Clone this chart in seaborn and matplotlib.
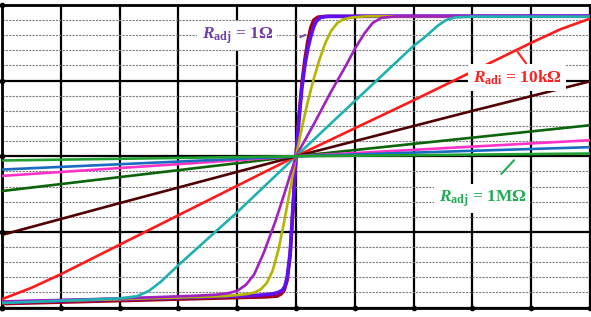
import seaborn as sns
import pandas as pd
import matplotlib.pyplot as plt
from matplotlib.ticker import MultipleLocator

# valores (x en unidades de division, y normalizado)
darkred_x = [-5, -3, -1, -0.5, -0.32, -0.25, -0.2, -0.15, -0.1, -0.05, 0, 0.05, 0.1, 0.15, 0.2, 0.25, 0.3, 0.37, 0.5, 5]
darkred_y = [-0.975, -0.955, -0.935, -0.93, -0.925, -0.91, -0.885, -0.82, -0.66, -0.34, 0, 0.26, 0.48, 0.64, 0.76, 0.85, 0.9, 0.92, 0.925, 0.925]

r1_x = [-5, -3, -1, -0.6, -0.4, -0.3, -0.23, -0.19, -0.15, -0.1, -0.05, 0, 0.05, 0.1, 0.15, 0.2, 0.25, 0.3, 0.35, 0.42, 0.55, 5]
r1_y = [-0.965, -0.945, -0.925, -0.918, -0.91, -0.9, -0.885, -0.86, -0.8, -0.64, -0.33, 0, 0.24, 0.45, 0.6, 0.71, 0.79, 0.855, 0.895, 0.918, 0.925, 0.927]

olive_x = [-5, -3, -1.2, -0.85, -0.7, -0.6, -0.5, -0.4, -0.3, -0.2, -0.1, 0, 0.1, 0.2, 0.3, 0.4, 0.5, 0.6, 0.7, 0.8, 0.95, 1.2, 5]
olive_y = [-0.965, -0.945, -0.925, -0.912, -0.9, -0.88, -0.84, -0.76, -0.62, -0.43, -0.22, 0, 0.19, 0.36, 0.51, 0.64, 0.75, 0.83, 0.88, 0.905, 0.918, 0.925, 0.925]

mag_x = [-5, -3, -1.7, -1.35, -1.15, -1.0, -0.85, -0.71, -0.55, -0.35, -0.2, 0, 0.3, 0.6, 0.85, 1.0, 1.16, 1.3, 1.45, 1.7, 5]
mag_y = [-0.96, -0.94, -0.922, -0.915, -0.905, -0.89, -0.85, -0.78, -0.64, -0.43, -0.25, 0, 0.21, 0.43, 0.6, 0.71, 0.81, 0.88, 0.915, 0.925, 0.925]

cyan_x = [-5, -4, -3, -2.7, -2.5, -2.3, -2, -1, 0, 1, 2, 2.2, 2.4, 2.55, 2.7, 3, 5]
cyan_y = [-0.97, -0.955, -0.94, -0.925, -0.89, -0.83, -0.72, -0.37, 0, 0.365, 0.73, 0.79, 0.86, 0.9, 0.918, 0.923, 0.923]

red_x = [-5, -4.5, -4, -3, -2, -1, 0, 1, 2, 3, 4, 4.5, 5]
red_y = [-0.945, -0.87, -0.78, -0.585, -0.39, -0.195, 0, 0.185, 0.37, 0.56, 0.75, 0.84, 0.91]

maroon_x = [-5, -3, 0, 3, 5]
maroon_y = [-0.52, -0.31, 0, 0.30, 0.495]

dgreen_x = [-5, 0, 5]
dgreen_y = [-0.23, 0, 0.205]

pink_x = [-5, 0, 5]
pink_y = [-0.13, 0, 0.106]

blue_x = [-5, 0, 5]
blue_y = [-0.088, 0, 0.06]

green_x = [-5, 0, 5]
green_y = [-0.028, 0, 0.018]

curves = {
    'darkred': (darkred_x, darkred_y),
    '1ohm': (r1_x, r1_y),
    'olive': (olive_x, olive_y),
    'magenta': (mag_x, mag_y),
    'cyan': (cyan_x, cyan_y),
    '10k': (red_x, red_y),
    'maroon': (maroon_x, maroon_y),
    'dgreen': (dgreen_x, dgreen_y),
    'pink': (pink_x, pink_y),
    'blue': (blue_x, blue_y),
    '1M': (green_x, green_y),
}
colores = {
    'darkred': '#a0001e', '1ohm': '#6010f0', 'olive': '#b5b500', 'magenta': '#a020c0',
    'cyan': '#20b0b0', '10k': '#ff1a1a', 'maroon': '#500000', 'dgreen': '#0a640a',
    'pink': '#ff33c8', 'blue': '#1a6cc0', '1M': '#1fa030',
}
grosores = {k: 1.9 for k in curves}
grosores['1ohm'] = 2.6
grosores['darkred'] = 2.5

rows = []
for nombre, (xs, ys) in curves.items():
    for i, (x, y) in enumerate(zip(xs, ys)):
        rows.append({'curve': nombre, 'x': x, 'y': y, 'i': i})
df = pd.DataFrame(rows)

sns.set_style('white')
plt.rcParams['mathtext.fontset'] = 'custom'
plt.rcParams['mathtext.rm'] = 'Liberation Serif:bold'
plt.rcParams['mathtext.it'] = 'Liberation Serif:italic:bold'
plt.rcParams['mathtext.bf'] = 'Liberation Serif:bold'

fig = plt.figure(figsize=(5.91, 3.17), dpi=100)
ax = fig.add_axes([2 / 591, 9.5 / 317, 588 / 591, 302.5 / 317])

sns.lineplot(data=df, x='x', y='y', hue='curve', size='curve', hue_order=list(curves),
             palette=colores, sizes=grosores, sort=False, estimator=None,
             legend=False, ax=ax, zorder=3)

ax.set_xlim(-5, 5)
ax.set_ylim(-1, 1)
ax.xaxis.set_major_locator(MultipleLocator(1))
ax.yaxis.set_major_locator(MultipleLocator(0.5))
ax.yaxis.set_minor_locator(MultipleLocator(0.1))
ax.grid(which='major', color='black', lw=1.6, zorder=1)
ax.grid(which='minor', axis='y', color='#808080', lw=0.8, ls=(0, (2, 1)), zorder=1)
ax.set_axisbelow(True)
ax.tick_params(which='both', length=0, labelbottom=False, labelleft=False)
ax.set_xlabel('')
ax.set_ylabel('')
for s in ax.spines.values():
    s.set_color('black')
    s.set_linewidth(2)

# puntos en las intersecciones del borde
ax.plot(range(-5, 6), [-1] * 11, 'o', color='black', ms=3, clip_on=False, zorder=5)
ax.plot([-5] * 5, [-1, -0.5, 0, 0.5, 1], 'o', color='black', ms=3, clip_on=False, zorder=5)

fuente = dict(family='Liberation Serif', fontweight='bold', fontsize=12.5,
              ha='center', va='center', zorder=6)
caja = dict(facecolor='white', edgecolor='none', pad=3)

ax.text(-1.0, 0.80, r'$R_{\mathrm{adj}}$ = 1Ω', color='#7040a8', bbox=caja, **fuente)
ax.annotate('', xy=(0.2, 0.81), xytext=(0.03, 0.78),
            arrowprops=dict(arrowstyle='-', color='#7a50a8', lw=1.5), zorder=6)

ax.text(3.76, 0.52, r'$R_{\mathrm{adi}}$ = 10kΩ', color='#ff2020', bbox=caja, **fuente)
ax.annotate('', xy=(3.74, 0.705), xytext=(3.94, 0.60),
            arrowprops=dict(arrowstyle='-', color='#ff2020', lw=1.5), zorder=6)

ax.text(3.17, -0.28, r'$R_{\mathrm{adj}}$ = 1MΩ', color='#22aa55', bbox=caja, **fuente)
ax.annotate('', xy=(3.74, -0.013), xytext=(3.46, -0.13),
            arrowprops=dict(arrowstyle='-', color='#22aa55', lw=1.5), zorder=6)

plt.savefig('out.png', dpi=100)
